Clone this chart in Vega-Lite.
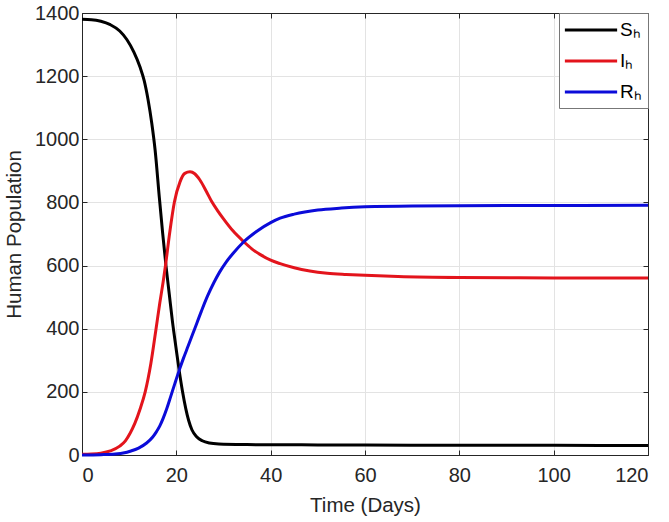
{
  "$schema": "https://vega.github.io/schema/vega-lite/v6.json",
  "width": 566,
  "height": 442,
  "autosize": {"type": "none"},
  "padding": {"left": 82, "top": 13, "right": 21, "bottom": 67},
  "background": "white",
  "config": {
    "font": "Liberation Sans",
    "view": {"stroke": "#262626", "strokeWidth": 1},
    "axis": {
      "domainColor": "#262626",
      "tickColor": "#262626",
      "labelColor": "#262626",
      "titleColor": "#262626",
      "labelFont": "Liberation Sans",
      "titleFont": "Liberation Sans",
      "labelFontSize": 20,
      "titleFontSize": 20.5,
      "titleFontWeight": "normal",
      "gridColor": "#e3e3e3",
      "gridWidth": 1,
      "tickSize": -5,
      "tickWidth": 1
    },
    "legend": {
      "orient": "top-right",
      "offset": 0,
      "padding": 6,
      "strokeColor": "#777777",
      "fillColor": "white",
      "symbolType": "M-2.75,0H2.75",
      "symbolSize": 361,
      "symbolStrokeWidth": 3,
      "symbolOffset": 15,
      "labelFont": "Liberation Sans",
      "labelFontSize": 19,
      "labelColor": "#000000",
      "rowPadding": 10,
      "labelOffset": 18
    }
  },
  "data": {
    "values": [
      {"t": 0, "v": 1380, "s": "S"},
      {"t": 2, "v": 1379, "s": "S"},
      {"t": 4, "v": 1374, "s": "S"},
      {"t": 6, "v": 1363, "s": "S"},
      {"t": 8, "v": 1343, "s": "S"},
      {"t": 9.5, "v": 1316, "s": "S"},
      {"t": 11, "v": 1276, "s": "S"},
      {"t": 12.3, "v": 1229, "s": "S"},
      {"t": 13.2, "v": 1185, "s": "S"},
      {"t": 14, "v": 1126, "s": "S"},
      {"t": 14.8, "v": 1050, "s": "S"},
      {"t": 15.5, "v": 966, "s": "S"},
      {"t": 16.4, "v": 815, "s": "S"},
      {"t": 17.1, "v": 703, "s": "S"},
      {"t": 17.8, "v": 600, "s": "S"},
      {"t": 18.5, "v": 510, "s": "S"},
      {"t": 19.2, "v": 420, "s": "S"},
      {"t": 19.9, "v": 343, "s": "S"},
      {"t": 20.6, "v": 268, "s": "S"},
      {"t": 21.3, "v": 202, "s": "S"},
      {"t": 22, "v": 147, "s": "S"},
      {"t": 22.6, "v": 110, "s": "S"},
      {"t": 23.3, "v": 80, "s": "S"},
      {"t": 24.3, "v": 58, "s": "S"},
      {"t": 25.5, "v": 45, "s": "S"},
      {"t": 27, "v": 38, "s": "S"},
      {"t": 29, "v": 35, "s": "S"},
      {"t": 35, "v": 33, "s": "S"},
      {"t": 40, "v": 32.5, "s": "S"},
      {"t": 50, "v": 32, "s": "S"},
      {"t": 60, "v": 31.5, "s": "S"},
      {"t": 80, "v": 31, "s": "S"},
      {"t": 100, "v": 30.5, "s": "S"},
      {"t": 120, "v": 30, "s": "S"},
      {"t": 0, "v": 2, "s": "I"},
      {"t": 2, "v": 3, "s": "I"},
      {"t": 4, "v": 6, "s": "I"},
      {"t": 6, "v": 13, "s": "I"},
      {"t": 8, "v": 28, "s": "I"},
      {"t": 9.2, "v": 45, "s": "I"},
      {"t": 10.2, "v": 69, "s": "I"},
      {"t": 11.2, "v": 100, "s": "I"},
      {"t": 12.3, "v": 145, "s": "I"},
      {"t": 13.4, "v": 200, "s": "I"},
      {"t": 14.6, "v": 290, "s": "I"},
      {"t": 15.7, "v": 400, "s": "I"},
      {"t": 16.5, "v": 482, "s": "I"},
      {"t": 17.2, "v": 548, "s": "I"},
      {"t": 17.7, "v": 600, "s": "I"},
      {"t": 18.6, "v": 705, "s": "I"},
      {"t": 19.6, "v": 802, "s": "I"},
      {"t": 20.8, "v": 866, "s": "I"},
      {"t": 21.8, "v": 892, "s": "I"},
      {"t": 22.9, "v": 897, "s": "I"},
      {"t": 23.9, "v": 891, "s": "I"},
      {"t": 25, "v": 871, "s": "I"},
      {"t": 26.4, "v": 834, "s": "I"},
      {"t": 27.5, "v": 803, "s": "I"},
      {"t": 28.7, "v": 775, "s": "I"},
      {"t": 30, "v": 748, "s": "I"},
      {"t": 32, "v": 710, "s": "I"},
      {"t": 34.2, "v": 677, "s": "I"},
      {"t": 36, "v": 653, "s": "I"},
      {"t": 38, "v": 633, "s": "I"},
      {"t": 40, "v": 617, "s": "I"},
      {"t": 42, "v": 606, "s": "I"},
      {"t": 45, "v": 593, "s": "I"},
      {"t": 48.3, "v": 583, "s": "I"},
      {"t": 52, "v": 576, "s": "I"},
      {"t": 56, "v": 572, "s": "I"},
      {"t": 60, "v": 569, "s": "I"},
      {"t": 67, "v": 565, "s": "I"},
      {"t": 80, "v": 562, "s": "I"},
      {"t": 100, "v": 561, "s": "I"},
      {"t": 120, "v": 561, "s": "I"},
      {"t": 0, "v": 0, "s": "R"},
      {"t": 4, "v": 1, "s": "R"},
      {"t": 7, "v": 3, "s": "R"},
      {"t": 9, "v": 7, "s": "R"},
      {"t": 10.2, "v": 12, "s": "R"},
      {"t": 12, "v": 22, "s": "R"},
      {"t": 13.7, "v": 38, "s": "R"},
      {"t": 15, "v": 57, "s": "R"},
      {"t": 15.8, "v": 74, "s": "R"},
      {"t": 16.5, "v": 92, "s": "R"},
      {"t": 17.2, "v": 116, "s": "R"},
      {"t": 18, "v": 148, "s": "R"},
      {"t": 18.8, "v": 185, "s": "R"},
      {"t": 19.7, "v": 227, "s": "R"},
      {"t": 20.6, "v": 268, "s": "R"},
      {"t": 21.5, "v": 306, "s": "R"},
      {"t": 22.5, "v": 345, "s": "R"},
      {"t": 23.9, "v": 400, "s": "R"},
      {"t": 25.3, "v": 455, "s": "R"},
      {"t": 26.6, "v": 503, "s": "R"},
      {"t": 28, "v": 547, "s": "R"},
      {"t": 29.2, "v": 580, "s": "R"},
      {"t": 30.6, "v": 612, "s": "R"},
      {"t": 32.1, "v": 640, "s": "R"},
      {"t": 34.2, "v": 674, "s": "R"},
      {"t": 37, "v": 708, "s": "R"},
      {"t": 40, "v": 736, "s": "R"},
      {"t": 42, "v": 750, "s": "R"},
      {"t": 45, "v": 763, "s": "R"},
      {"t": 50, "v": 776, "s": "R"},
      {"t": 55, "v": 782, "s": "R"},
      {"t": 60, "v": 786, "s": "R"},
      {"t": 70, "v": 789, "s": "R"},
      {"t": 90, "v": 790, "s": "R"},
      {"t": 120, "v": 791, "s": "R"}
    ]
  },
  "layer": [
    {
      "mark": {"type": "line", "strokeWidth": 3, "interpolate": "monotone"},
      "encoding": {
        "x": {
          "field": "t",
          "type": "quantitative",
          "scale": {"domain": [0, 120], "nice": false},
          "axis": {"orient": "bottom", "title": "Time (Days)", "format": "d", "values": [0, 20, 40, 60, 80, 100, 120], "grid": true, "labelPadding": 15, "titlePadding": 10}
        },
        "y": {
          "field": "v",
          "type": "quantitative",
          "scale": {"domain": [0, 1400], "nice": false},
          "axis": {"orient": "left", "title": "Human Population", "format": "d", "values": [0, 200, 400, 600, 800, 1000, 1200, 1400], "grid": true, "labelPadding": 8, "titlePadding": 10}
        },
        "color": {
          "field": "s",
          "type": "nominal",
          "sort": ["S", "I", "R"],
          "scale": {"domain": ["S", "I", "R"], "range": ["#000000", "#e3141c", "#0b0bd9"]},
          "legend": {"title": null, "labelExpr": "datum.label + '\u2095'"}
        }
      }
    },
    {
      "mark": {"type": "line", "opacity": 0},
      "encoding": {
        "x": {
          "field": "t",
          "type": "quantitative",
          "scale": {"domain": [0, 120], "nice": false},
          "axis": {"orient": "top", "title": null, "labels": false, "grid": false, "values": [0, 20, 40, 60, 80, 100, 120]}
        },
        "y": {
          "field": "v",
          "type": "quantitative",
          "scale": {"domain": [0, 1400], "nice": false},
          "axis": {"orient": "right", "title": null, "labels": false, "grid": false, "values": [0, 200, 400, 600, 800, 1000, 1200, 1400]}
        },
        "detail": {"field": "s"}
      }
    }
  ],
  "resolve": {"axis": {"x": "independent", "y": "independent"}}
}
